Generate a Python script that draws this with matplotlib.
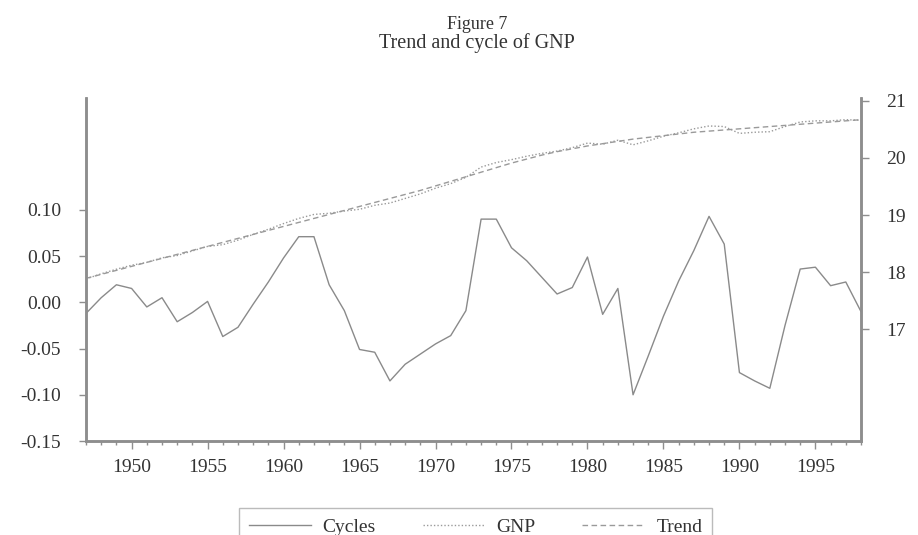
import matplotlib
matplotlib.use("Agg")
import matplotlib.pyplot as plt
from matplotlib.ticker import FixedLocator, MultipleLocator, FormatStrFormatter

plt.rcParams['font.family'] = ['Liberation Serif', 'DejaVu Serif']
plt.rcParams['axes.unicode_minus'] = False

# données (log du PNB, 1947-1998)
years = list(range(1947, 1999))

cycles = [-0.012, 0.005, 0.019, 0.015, -0.005, 0.005, -0.021, -0.011, 0.001, -0.037,
          -0.027, -0.002, 0.022, 0.048, 0.071, 0.071, 0.019, -0.009, -0.051, -0.054,
          -0.085, -0.067, -0.056, -0.045, -0.036, -0.009, 0.090, 0.090, 0.059, 0.045,
          0.027, 0.009, 0.016, 0.049, -0.013, 0.015, -0.100, -0.058, -0.015, 0.023,
          0.056, 0.093, 0.063, -0.076, -0.085, -0.093, -0.025, 0.036, 0.038, 0.018,
          0.022, -0.010]

trend = [17.89, 17.96, 18.03, 18.10, 18.17, 18.24, 18.31, 18.38, 18.45, 18.52,
         18.59, 18.66, 18.73, 18.80, 18.87, 18.94, 19.01, 19.08, 19.15, 19.22,
         19.29, 19.36, 19.43, 19.51, 19.59, 19.67, 19.75, 19.83, 19.91, 19.98,
         20.05, 20.11, 20.16, 20.21, 20.25, 20.29, 20.33, 20.36, 20.39, 20.42,
         20.45, 20.47, 20.49, 20.51, 20.53, 20.55, 20.57, 20.59, 20.61, 20.63,
         20.65, 20.67]

gnp = [17.88, 17.97, 18.05, 18.12, 18.17, 18.25, 18.29, 18.37, 18.45, 18.48,
       18.56, 18.66, 18.75, 18.85, 18.94, 19.01, 19.03, 19.07, 19.10, 19.17,
       19.21, 19.29, 19.37, 19.47, 19.55, 19.66, 19.84, 19.92, 19.97, 20.03,
       20.08, 20.12, 20.18, 20.26, 20.24, 20.31, 20.23, 20.30, 20.38, 20.44,
       20.51, 20.56, 20.55, 20.43, 20.45, 20.46, 20.55, 20.63, 20.65, 20.65,
       20.67, 20.66]

left_ticks = [-0.15, -0.10, -0.05, 0.00, 0.05, 0.10]
right_ticks = [17, 18, 19, 20, 21]

SPINE = '#8e8e8e'
LINE = '#8a8a8a'
TEXT = '#333333'

fig = plt.figure(figsize=(9.18, 5.35), dpi=100)
ax = fig.add_axes([0.0937, 0.1757, 0.9379 - 0.0937, 0.8168 - 0.1757])
ax2 = ax.twinx()

l1, = ax.plot(years, cycles, color=LINE, lw=1.0, label='Cycles')
l2, = ax2.plot(years, gnp, color='#9a9a9a', lw=1.0, ls=(0, (1, 1.5)), label='GNP')
l3, = ax2.plot(years, trend, color='#9a9a9a', lw=1.0, ls=(0, (4, 2.5)), label='Trend')

ax.set_xlim(1947, 1998)
ax.set_ylim(-0.15, 0.221)
ax2.set_ylim(15.04, 21.05)

ax.xaxis.set_major_locator(MultipleLocator(5))
ax.xaxis.set_minor_locator(MultipleLocator(1))
ax.yaxis.set_major_locator(FixedLocator(left_ticks))
ax.yaxis.set_major_formatter(FormatStrFormatter('%.2f'))
ax2.yaxis.set_major_locator(FixedLocator(right_ticks))

for a in (ax, ax2):
    a.spines['top'].set_visible(False)
    for s in ('left', 'right', 'bottom'):
        a.spines[s].set_color(SPINE)
        a.spines[s].set_linewidth(1.8)

ax.tick_params(axis='x', which='major', length=6, width=1, color=SPINE,
               labelsize=14, labelcolor=TEXT, pad=7)
ax.tick_params(axis='x', which='minor', length=3, width=1, color=SPINE)
ax.tick_params(axis='y', length=5, width=1, color=SPINE,
               labelsize=14, labelcolor=TEXT, pad=13)
ax2.tick_params(axis='y', length=6, width=1, color=SPINE,
                labelsize=14, labelcolor=TEXT, pad=12)

fig.text(0.52, 0.955, 'Figure 7', ha='center', va='center', fontsize=13, color=TEXT)
fig.text(0.52, 0.92, 'Trend and cycle of GNP', ha='center', va='center',
         fontsize=14.5, color=TEXT)

leg = fig.legend(handles=[l1, l2, l3], loc='upper center', ncol=3,
                 bbox_to_anchor=(0.518, 0.068), frameon=True, fancybox=False,
                 fontsize=14, handlelength=3.2, columnspacing=2.4,
                 borderpad=0.5, handletextpad=0.6)
leg.get_frame().set_edgecolor('#aaaaaa')
leg.get_frame().set_linewidth(1.0)
for t in leg.get_texts():
    t.set_color(TEXT)

fig.savefig('out.png', dpi=100)
